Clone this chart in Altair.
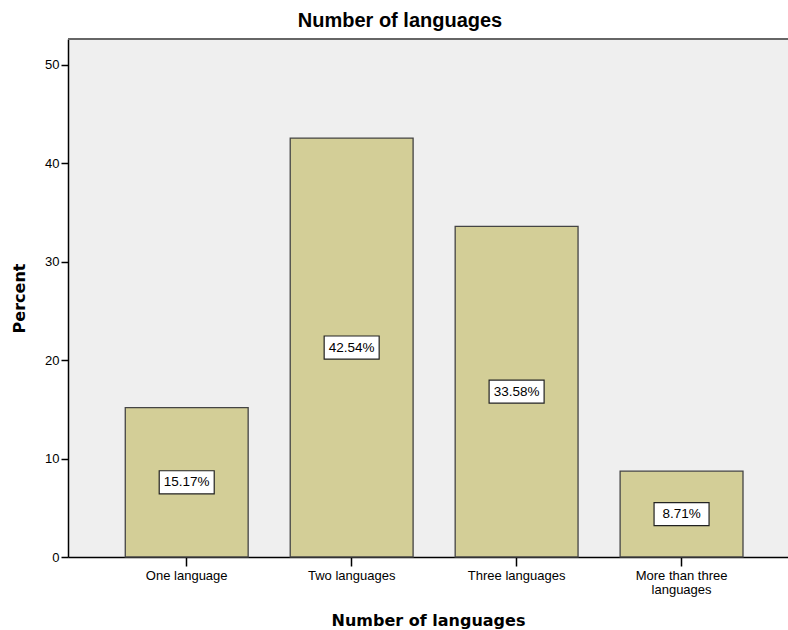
import altair as alt
import pandas as pd

categories = ["One language", "Two languages", "Three languages", "More than three languages"]
percents = [15.17, 42.54, 33.58, 8.71]
labels = ["15.17%", "42.54%", "33.58%", "8.71%"]

df = pd.DataFrame({"cat": categories, "pct": percents, "label": labels})

FONT = "Liberation Sans"
TFONT = "DejaVu Sans"
W = 720
H = 518

x_enc = alt.X(
    "cat:N",
    sort=categories,
    scale=alt.Scale(paddingInner=0.255, paddingOuter=0.31, align=0.56),
    axis=alt.Axis(
        title="Number of languages",
        labelAngle=0,
        labelFont=FONT,
        labelFontSize=13,
        labelColor="black",
        labelPadding=3,
        labelLimit=300,
        labelLineHeight=14,
        labelExpr="datum.label == 'More than three languages' ? ['More than three', 'languages'] : datum.label",
        tickSize=9,
        tickColor="black",
        tickWidth=1.5,
        domainColor="black",
        domainWidth=1.5,
        titleFont=TFONT,
        titleFontSize=16,
        titleFontWeight="bold",
        titleColor="black",
        titlePadding=16,
    ),
)

y_scale = alt.Scale(domain=[0, 52.6], nice=False)

top_border = alt.Chart(df).mark_rule(color="#666666", strokeWidth=1.5).encode(
    x=alt.value(0), x2=alt.value(W), y=alt.value(0)
)

bars = alt.Chart(df).mark_bar(
    color="#d3ce97", stroke="#444444", strokeWidth=1.3
).encode(
    x=x_enc,
    y=alt.Y(
        "pct:Q",
        scale=y_scale,
        axis=alt.Axis(
            title="Percent",
            values=[0, 10, 20, 30, 40, 50],
            grid=False,
            labelFont=FONT,
            labelFontSize=13,
            labelColor="black",
            labelPadding=2,
            tickSize=7,
            tickColor="black",
            tickWidth=1.5,
            domainColor="black",
            domainWidth=1.5,
            titleFont=TFONT,
            titleFontSize=16,
            titleFontWeight="bold",
            titleColor="black",
            titlePadding=17,
        ),
    ),
)

boxes = alt.Chart(df).transform_calculate(mid="datum.pct / 2").mark_point(
    shape="M-1,-0.42L1,-0.42L1,0.42L-1,0.42Z",
    size=3025,
    filled=True,
    fill="white",
    stroke="#222222",
    strokeWidth=1.2,
    opacity=1,
).encode(
    x=alt.X("cat:N", sort=categories),
    y=alt.Y("mid:Q", scale=y_scale),
)

texts = alt.Chart(df).transform_calculate(mid="datum.pct / 2").mark_text(
    font=FONT, fontSize=13.5, color="black", baseline="middle", align="center"
).encode(
    x=alt.X("cat:N", sort=categories),
    y=alt.Y("mid:Q", scale=y_scale),
    text="label:N",
)

chart = (
    alt.layer(bars, top_border, boxes, texts)
    .properties(
        width=W,
        height=H,
        autosize=alt.AutoSizeParams(type="none"),
        padding={"left": 68, "top": 39, "right": 0, "bottom": 73},
        title=alt.TitleParams(
            "Number of languages",
            font=FONT,
            fontSize=20,
            fontWeight="bold",
            color="black",
            anchor="middle",
            dx=-28,
            offset=7,
        ),
        background="white",
    )
    .configure_view(fill="#efefef", strokeWidth=0)
)

chart.save("out.html", embed_options={"renderer": "svg", "actions": False})
